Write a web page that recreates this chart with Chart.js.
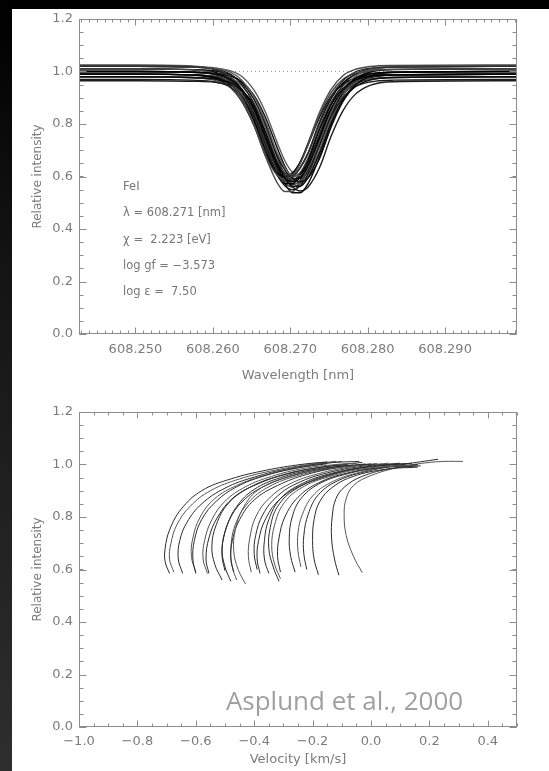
<!DOCTYPE html>
<html>
<head>
<meta charset="utf-8">
<title>Fe I 608.27 nm line profiles and bisectors</title>
<script src="https://cdn.jsdelivr.net/npm/chart.js@4.4.1/dist/chart.umd.min.js"></script>
<style>
  html, body { margin: 0; padding: 0; }
  body { width: 549px; height: 771px; background: #000; position: relative; overflow: hidden; }
  #strip { position: absolute; left: 0; top: 0; width: 12px; height: 771px; background: linear-gradient(#000 0%, #141414 35%, #2e2e2e 100%); }
  #sheet { position: absolute; left: 12px; top: 9px; right: 0; bottom: 0; background: #fff; }
  canvas { position: absolute; left: 0; }
  #profiles { top: 0; width: 549px; height: 390px; }
  #bisect { top: 390px; width: 549px; height: 381px; }
</style>
</head>
<body>
<div id="strip"></div>
<div id="sheet"></div>
<canvas id="profiles" width="549" height="390"></canvas>
<canvas id="bisect" width="549" height="381"></canvas>
<script>
// wavelength grid [nm] shared by all the spatially resolved profiles
const lamGrid = [608.2425, 608.2503, 608.2573, 608.2603, 608.2623, 608.2638, 608.2653, 608.2668, 608.2683, 608.2693,
                 608.2703, 608.2713, 608.2723, 608.2738, 608.2753, 608.2768, 608.2783, 608.2803, 608.2833, 608.2995];

// relative intensity of each profile on lamGrid
const profiles = [
  [1.000,1.000,0.997,0.990,0.970,0.930,0.860,0.750,0.640,0.595,0.580,0.595,0.640,0.750,0.860,0.930,0.970,0.990,0.997,1.000],
  [1.020,1.020,1.017,1.007,0.980,0.930,0.845,0.730,0.635,0.603,0.603,0.635,0.690,0.810,0.905,0.965,0.997,1.012,1.017,1.020],
  [0.980,0.980,0.977,0.972,0.957,0.925,0.865,0.770,0.650,0.595,0.563,0.563,0.595,0.690,0.805,0.890,0.940,0.967,0.977,0.980],
  [1.010,1.010,1.006,0.992,0.955,0.895,0.800,0.680,0.605,0.590,0.605,0.650,0.720,0.835,0.920,0.970,0.992,1.004,1.008,1.010],
  [0.970,0.970,0.967,0.960,0.940,0.900,0.830,0.720,0.610,0.565,0.550,0.565,0.610,0.720,0.830,0.900,0.940,0.960,0.967,0.970],
  [1.020,1.020,1.017,1.012,0.997,0.965,0.905,0.810,0.690,0.635,0.603,0.603,0.635,0.730,0.845,0.930,0.980,1.007,1.017,1.020],
  [0.990,0.990,0.987,0.977,0.950,0.900,0.815,0.700,0.605,0.573,0.573,0.605,0.660,0.780,0.875,0.935,0.967,0.982,0.987,0.990],
  [0.990,0.990,0.987,0.981,0.962,0.925,0.860,0.758,0.656,0.614,0.600,0.614,0.656,0.758,0.860,0.925,0.962,0.981,0.987,0.990],
  [1.000,1.000,0.998,0.994,0.982,0.960,0.910,0.825,0.710,0.640,0.595,0.580,0.595,0.670,0.790,0.885,0.945,0.982,0.996,1.000],
  [0.980,0.980,0.976,0.966,0.938,0.886,0.797,0.676,0.577,0.543,0.543,0.577,0.634,0.760,0.859,0.922,0.956,0.972,0.977,0.980],
  [1.020,1.020,1.017,1.010,0.989,0.948,0.877,0.764,0.651,0.605,0.590,0.605,0.651,0.764,0.877,0.948,0.989,1.010,1.017,1.020],
  [1.000,1.000,0.997,0.992,0.976,0.944,0.882,0.785,0.662,0.606,0.573,0.573,0.606,0.703,0.821,0.908,0.959,0.987,0.997,1.000],
  [0.990,0.990,0.986,0.973,0.939,0.883,0.795,0.683,0.614,0.600,0.614,0.656,0.721,0.827,0.907,0.953,0.973,0.985,0.988,0.990],
  [1.000,1.000,0.997,0.989,0.969,0.927,0.853,0.738,0.623,0.576,0.560,0.576,0.623,0.738,0.853,0.927,0.969,0.989,0.997,1.000],
  [1.010,1.010,1.007,1.002,0.987,0.955,0.895,0.800,0.680,0.625,0.593,0.593,0.625,0.720,0.835,0.920,0.970,0.997,1.007,1.010],
  [1.000,1.000,0.997,0.987,0.960,0.910,0.825,0.710,0.615,0.583,0.583,0.615,0.670,0.790,0.885,0.945,0.977,0.992,0.997,1.000],
  [0.980,0.980,0.977,0.970,0.951,0.912,0.843,0.736,0.629,0.585,0.570,0.585,0.629,0.736,0.843,0.912,0.951,0.970,0.977,0.980],
  [1.020,1.020,1.018,1.014,1.002,0.980,0.930,0.845,0.730,0.660,0.615,0.600,0.615,0.690,0.810,0.905,0.965,1.002,1.016,1.020],
  [1.010,1.010,1.007,0.997,0.971,0.922,0.839,0.727,0.634,0.603,0.603,0.634,0.688,0.805,0.898,0.956,0.987,1.002,1.008,1.010],
  [0.990,0.990,0.987,0.980,0.961,0.922,0.855,0.749,0.643,0.600,0.585,0.600,0.643,0.749,0.855,0.922,0.961,0.980,0.987,0.990],
  [0.990,0.990,0.987,0.981,0.965,0.930,0.865,0.762,0.632,0.573,0.538,0.538,0.573,0.676,0.800,0.893,0.947,0.976,0.986,0.990],
  [1.025,1.025,1.021,1.007,0.969,0.907,0.810,0.687,0.610,0.595,0.610,0.656,0.728,0.846,0.933,0.984,1.007,1.019,1.023,1.025],
  [0.965,0.965,0.963,0.959,0.947,0.925,0.875,0.790,0.675,0.605,0.560,0.545,0.560,0.635,0.755,0.850,0.910,0.947,0.961,0.965]
];

// line bisectors: [velocity km/s, relative intensity] from the core up to the wings
const bisectors = [
  [[-0.69,0.585],[-0.705,0.63],[-0.705,0.68],[-0.69,0.75],[-0.65,0.83],[-0.58,0.90],[-0.48,0.945],[-0.36,0.978],[-0.24,1.000],[-0.15,1.010]],
  [[-0.675,0.590],[-0.69,0.64],[-0.685,0.70],[-0.665,0.77],[-0.62,0.84],[-0.55,0.90],[-0.45,0.945],[-0.33,0.978],[-0.20,1.002],[-0.12,1.012]],
  [[-0.645,0.585],[-0.66,0.64],[-0.655,0.71],[-0.63,0.78],[-0.58,0.85],[-0.50,0.91],[-0.40,0.952],[-0.28,0.985],[-0.16,1.005],[-0.04,1.012]],
  [[-0.60,0.585],[-0.61,0.64],[-0.605,0.71],[-0.58,0.79],[-0.53,0.86],[-0.46,0.915],[-0.37,0.955],[-0.26,0.985],[-0.15,1.003]],
  [[-0.56,0.585],[-0.575,0.64],[-0.57,0.71],[-0.545,0.79],[-0.50,0.86],[-0.43,0.915],[-0.34,0.955],[-0.23,0.985],[-0.12,1.000],[-0.05,1.005]],
  [[-0.51,0.56],[-0.535,0.62],[-0.545,0.69],[-0.53,0.77],[-0.49,0.85],[-0.42,0.91],[-0.32,0.955],[-0.20,0.985],[-0.08,1.000]],
  [[-0.48,0.555],[-0.50,0.61],[-0.51,0.68],[-0.495,0.76],[-0.46,0.84],[-0.40,0.905],[-0.31,0.950],[-0.19,0.982],[-0.06,0.998]],
  [[-0.43,0.545],[-0.455,0.60],[-0.47,0.67],[-0.465,0.75],[-0.44,0.83],[-0.39,0.90],[-0.30,0.948],[-0.18,0.980],[-0.04,0.997]],
  [[-0.50,0.595],[-0.51,0.65],[-0.505,0.72],[-0.48,0.80],[-0.43,0.87],[-0.36,0.92],[-0.26,0.960],[-0.14,0.988],[-0.02,1.002]],
  [[-0.47,0.59],[-0.48,0.64],[-0.475,0.71],[-0.45,0.79],[-0.40,0.865],[-0.32,0.92],[-0.22,0.962],[-0.10,0.990],[0.02,1.003]],
  [[-0.41,0.59],[-0.42,0.65],[-0.415,0.72],[-0.395,0.80],[-0.35,0.87],[-0.28,0.925],[-0.18,0.965],[-0.06,0.992],[0.06,1.005]],
  [[-0.39,0.60],[-0.40,0.66],[-0.395,0.73],[-0.37,0.81],[-0.32,0.88],[-0.25,0.93],[-0.15,0.968],[-0.03,0.993],[0.10,1.005]],
  [[-0.35,0.585],[-0.365,0.64],[-0.365,0.71],[-0.35,0.79],[-0.31,0.87],[-0.24,0.925],[-0.14,0.965],[-0.02,0.99],[0.12,1.003]],
  [[-0.31,0.565],[-0.33,0.62],[-0.34,0.69],[-0.33,0.77],[-0.30,0.85],[-0.24,0.91],[-0.14,0.955],[-0.02,0.985],[0.15,0.998]],
  [[-0.31,0.59],[-0.32,0.65],[-0.315,0.72],[-0.295,0.80],[-0.25,0.875],[-0.18,0.93],[-0.08,0.968],[0.04,0.99],[0.16,1.0]],
  [[-0.26,0.59],[-0.275,0.65],[-0.28,0.72],[-0.27,0.80],[-0.24,0.87],[-0.18,0.925],[-0.09,0.962],[0.03,0.988],[0.15,0.995]],
  [[-0.24,0.61],[-0.25,0.67],[-0.25,0.74],[-0.235,0.81],[-0.20,0.88],[-0.14,0.93],[-0.05,0.967],[0.06,0.990],[0.16,0.996]],
  [[-0.18,0.58],[-0.195,0.64],[-0.20,0.71],[-0.195,0.79],[-0.175,0.86],[-0.13,0.915],[-0.06,0.955],[0.05,0.982],[0.16,0.99]],
  [[-0.11,0.578],[-0.125,0.64],[-0.135,0.72],[-0.133,0.80],[-0.12,0.87],[-0.09,0.915],[-0.03,0.955],[0.07,0.985],[0.17,0.995]],
  [[-0.03,0.588],[-0.06,0.65],[-0.085,0.73],[-0.092,0.81],[-0.085,0.87],[-0.06,0.92],[0.0,0.958],[0.10,0.99],[0.22,1.010],[0.315,1.012]],
  [[-0.22,0.60],[-0.23,0.66],[-0.23,0.73],[-0.215,0.81],[-0.18,0.885],[-0.11,0.94],[-0.01,0.975],[0.11,1.0],[0.23,1.02]],
  [[-0.555,0.585],[-0.565,0.64],[-0.555,0.72],[-0.525,0.80],[-0.47,0.875],[-0.39,0.925],[-0.29,0.963],[-0.17,0.99],[-0.03,1.008]],
  [[-0.46,0.56],[-0.475,0.61],[-0.48,0.68],[-0.465,0.77],[-0.42,0.855],[-0.35,0.915],[-0.25,0.958],[-0.12,0.988],[0.0,1.003]],
  [[-0.38,0.585],[-0.39,0.64],[-0.385,0.71],[-0.36,0.795],[-0.31,0.87],[-0.23,0.925],[-0.13,0.965],[0.0,0.993],[0.14,1.005]],
  [[-0.315,0.555],[-0.335,0.61],[-0.35,0.68],[-0.345,0.76],[-0.32,0.84],[-0.26,0.905],[-0.16,0.952],[-0.04,0.985],[0.08,1.0]],
  [[-0.60,0.59],[-0.615,0.65],[-0.61,0.72],[-0.585,0.80],[-0.535,0.87],[-0.46,0.92],[-0.36,0.96],[-0.24,0.99],[-0.10,1.012]]
];

// axes
const lamRange = [608.2427, 608.2993];
const lamTicks = [608.250, 608.260, 608.270, 608.280, 608.290];
const velRange = [-1.0, 0.5];
const velTicks = [-1.0, -0.8, -0.6, -0.4, -0.2, 0.0, 0.2, 0.4];
const intRange = [0.0, 1.2];
const intTicks = [0.0, 0.2, 0.4, 0.6, 0.8, 1.0, 1.2];
const continuum = 1.0;

// line parameters written inside the upper panel
const lineNotes = ['FeI', 'λ = 608.271 [nm]', 'χ =  2.223 [eV]', 'log gf = −3.573', 'log ε =  7.50'];
const noteLam = 608.2484;
const noteLevels = [0.561, 0.460, 0.358, 0.259, 0.161];
const credit = 'Asplund et al., 2000';

const axisGrey = '#8c8c8c',
    labelGrey = '#7c7c7c',
    fam = '"DejaVu Sans", sans-serif';

// box with inward ticks on all four sides, IDL style
const frameTicks = {
    id: 'frameTicks',
    afterDatasetsDraw(chart, args, o) {
        let ctx = chart.ctx, a = chart.chartArea,
            sx = chart.scales.x, sy = chart.scales.y;
        let L = Math.round(a.left) + 0.5, R = Math.round(a.right) - 0.5,
            T = Math.round(a.top) + 0.5, B = Math.round(a.bottom) - 0.5;
        ctx.save();
        ctx.strokeStyle = axisGrey;
        ctx.lineWidth = 1;
        ctx.strokeRect(L, T, R - L, B - T);
        ctx.beginPath();
        let xTick = function (v, len) {
            let p = Math.round(sx.getPixelForValue(v)) + 0.5;
            ctx.moveTo(p, B); ctx.lineTo(p, B - len);
            ctx.moveTo(p, T); ctx.lineTo(p, T + len);
        };
        let yTick = function (v, len) {
            let p = Math.round(sy.getPixelForValue(v)) + 0.5;
            ctx.moveTo(L, p); ctx.lineTo(L + len, p);
            ctx.moveTo(R, p); ctx.lineTo(R - len, p);
        };
        let n = Math.round((sx.max - o.xFirst) / o.xStep);
        for (let i = 0; i <= n; i++) xTick(o.xFirst + i * o.xStep, 3);
        o.xMajor.forEach(v => xTick(v, 6));
        n = Math.round((sy.max - sy.min) / o.yStep);
        for (let i = 0; i <= n; i++) yTick(sy.min + i * o.yStep, 4);
        o.yMajor.forEach(v => yTick(v, 7));
        ctx.stroke();
        ctx.restore();
    }
};

// free text placed in data coordinates
const notes = {
    id: 'notes',
    afterDraw(chart, args, o) {
        let ctx = chart.ctx, sx = chart.scales.x, sy = chart.scales.y;
        ctx.save();
        ctx.font = o.font;
        ctx.fillStyle = o.color;
        ctx.textAlign = 'left';
        ctx.textBaseline = o.baseline;
        o.items.forEach(t => ctx.fillText(t.text, sx.getPixelForValue(t.x), sy.getPixelForValue(t.y)));
        ctx.restore();
    }
};

function intensityAxis() {
    return {
        type: 'linear', min: intRange[0], max: intRange[1],
        afterBuildTicks: s => { s.ticks = intTicks.map(v => ({ value: v })); },
        afterFit: s => { s.width = 79; },
        grid: { display: false, drawTicks: false },
        border: { display: false },
        ticks: { callback: v => v.toFixed(1), color: labelGrey, font: { family: fam, size: 13 }, padding: 6 },
        title: { display: true, text: 'Relative intensity', color: labelGrey, font: { family: fam, size: 12 }, padding: { top: 31, bottom: 0 } }
    };
}

function bottomAxis(range, ticks, fmt, title, height, pad, titlePad) {
    return {
        type: 'linear', min: range[0], max: range[1],
        afterBuildTicks: s => { s.ticks = ticks.map(v => ({ value: v })); },
        afterFit: s => { s.height = height; },
        grid: { display: false, drawTicks: false },
        border: { display: false },
        ticks: { callback: fmt, color: labelGrey, font: { family: fam, size: 13 }, padding: pad, maxRotation: 0, autoSkip: false },
        title: { display: true, text: title, color: labelGrey, font: { family: fam, size: 13 }, padding: { top: 0, bottom: titlePad } }
    };
}

let greys = ['#000000', '#2e2e2e', '#0c0c0c', '#4a4a4a', '#1c1c1c', '#5c5c5c'];

let profileSets = profiles.map((p, k) => ({
    data: lamGrid.map((x, i) => ({ x: x, y: p[i] })),
    borderColor: greys[k % greys.length],
    borderWidth: 1.4,
    cubicInterpolationMode: 'monotone',
    pointRadius: 0
}));
// dotted continuum level, drawn underneath the profiles
profileSets.push({
    data: [{ x: lamRange[0], y: continuum }, { x: lamRange[1], y: continuum }],
    borderColor: '#9a9a9a',
    borderWidth: 1,
    borderDash: [1, 3],
    pointRadius: 0
});

new Chart(document.getElementById('profiles'), {
    type: 'line',
    data: { datasets: profileSets },
    options: {
        responsive: false, animation: false, devicePixelRatio: 1,
        layout: { padding: { left: 0, right: 32, top: 19, bottom: 0 } },
        plugins: {
            legend: { display: false }, tooltip: { enabled: false },
            frameTicks: { xFirst: 608.243, xStep: 0.001, xMajor: lamTicks, yStep: 0.05, yMajor: intTicks },
            notes: {
                font: '11.5px ' + fam, color: '#777', baseline: 'middle',
                items: lineNotes.map((t, i) => ({ text: t, x: noteLam, y: noteLevels[i] }))
            }
        },
        scales: {
            x: bottomAxis(lamRange, lamTicks, v => v.toFixed(3), 'Wavelength [nm]', 56, 8, 7),
            y: intensityAxis()
        }
    },
    plugins: [frameTicks, notes]
});

new Chart(document.getElementById('bisect'), {
    type: 'line',
    data: {
        datasets: bisectors.map((b, k) => ({
            data: b.map(p => ({ x: p[0], y: p[1] })),
            borderColor: k % 3 == 1 ? '#555' : '#2a2a2a',
            borderWidth: 1,
            tension: 0.4,
            pointRadius: 0
        }))
    },
    options: {
        responsive: false, animation: false, devicePixelRatio: 1,
        layout: { padding: { left: 0, right: 32, top: 22, bottom: 0 } },
        plugins: {
            legend: { display: false }, tooltip: { enabled: false },
            frameTicks: { xFirst: -1.0, xStep: 0.05, xMajor: velTicks, yStep: 0.05, yMajor: intTicks },
            notes: {
                font: '26px "Open Sans", sans-serif', color: '#a0a0a0', baseline: 'alphabetic',
                items: [{ text: credit, x: -0.497, y: 0.064 }]
            }
        },
        scales: {
            x: bottomAxis(velRange, velTicks, v => v.toFixed(1).replace('-', '\u2212'), 'Velocity [km/s]', 44, 7, 4),
            y: intensityAxis()
        }
    },
    plugins: [frameTicks, notes]
});
</script>
</body>
</html>
